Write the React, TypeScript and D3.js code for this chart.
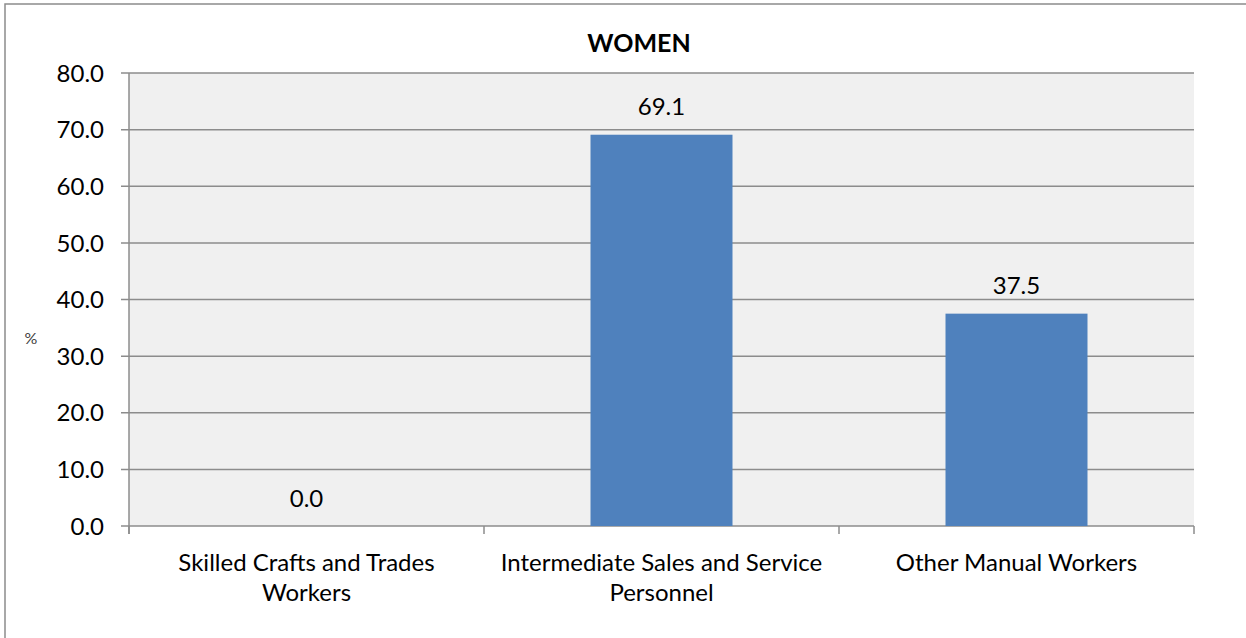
import React from "react";
import * as d3 from "d3";

const categories: string[][] = [
  ["Skilled Crafts and Trades", "Workers"],
  ["Intermediate Sales and Service", "Personnel"],
  ["Other Manual Workers"],
];
const values: number[] = [0.0, 69.1, 37.5];
const yTicks: number[] = [0, 10, 20, 30, 40, 50, 60, 70, 80];
const title = "WOMEN";
const yLabel = "%";

const W = 1246;
const H = 638;
const FONT = "Lato, 'Open Sans', sans-serif";

export default function App() {
  const left = 129, right = 1194, top = 73, bottom = 526;
  const x = d3.scaleBand<number>().domain(d3.range(values.length)).range([left, right]).paddingInner(0.6).paddingOuter(0.3);
  const xb = d3.scaleBand<number>().domain(d3.range(values.length)).range([left, right]);
  const y = d3.scaleLinear().domain([0, 80]).range([bottom, top]);
  const grid = "#8c8c8c";
  return (
    <svg width={W} height={H} style={{ position: "absolute", left: 0, top: 0 }}>
      <rect x={0} y={0} width={W} height={H} fill="#fff" />
      <rect x={5} y={4} width={W + 10} height={H + 10} fill="none" stroke={grid} strokeWidth={1.5} />
      <rect x={left} y={top} width={right - left} height={bottom - top} fill="#f0f0f0" />
      {yTicks.map((t) => (
        <g key={t}>
          <line x1={left - 8} x2={right} y1={y(t)} y2={y(t)} stroke={grid} strokeWidth={1.5} />
          <text x={104} y={y(t)} dy="0.36em" textAnchor="end" fontFamily={FONT} fontSize={24} fill="#000">
            {t.toFixed(1)}
          </text>
        </g>
      ))}
      <line x1={left} x2={left} y1={top} y2={bottom + 8} stroke={grid} strokeWidth={1.5} />
      {d3.range(values.length + 1).map((i) => {
        const xx = i < values.length ? (xb(i) as number) : right;
        return <line key={i} x1={xx} x2={xx} y1={bottom} y2={bottom + 8} stroke={grid} strokeWidth={1.5} />;
      })}
      {values.map((v, i) => (
        <g key={i}>
          <rect x={x(i)} y={y(v)} width={x.bandwidth()} height={bottom - y(v)} fill="#4f81bd" />
          <text x={(x(i) as number) + x.bandwidth() / 2} y={y(v) - 28} dy="0.36em" textAnchor="middle" fontFamily={FONT} fontSize={24} fill="#000">
            {v.toFixed(1)}
          </text>
        </g>
      ))}
      {categories.map((lines, i) => (
        <text key={i} textAnchor="middle" fontFamily={FONT} fontSize={24} fill="#000">
          {lines.map((l, j) => (
            <tspan key={j} x={(xb(i) as number) + xb.bandwidth() / 2} y={562 + j * 30} dy="0.36em">
              {l}
            </tspan>
          ))}
        </text>
      ))}
      <text x={639} y={43} dy="0.36em" textAnchor="middle" fontFamily={FONT} fontSize={25} fontWeight="bold" fill="#000">
        {title}
      </text>
      <text x={31} y={338} dy="0.36em" textAnchor="middle" fontFamily={FONT} fontSize={16} fill="#404040">
        {yLabel}
      </text>
    </svg>
  );
}
